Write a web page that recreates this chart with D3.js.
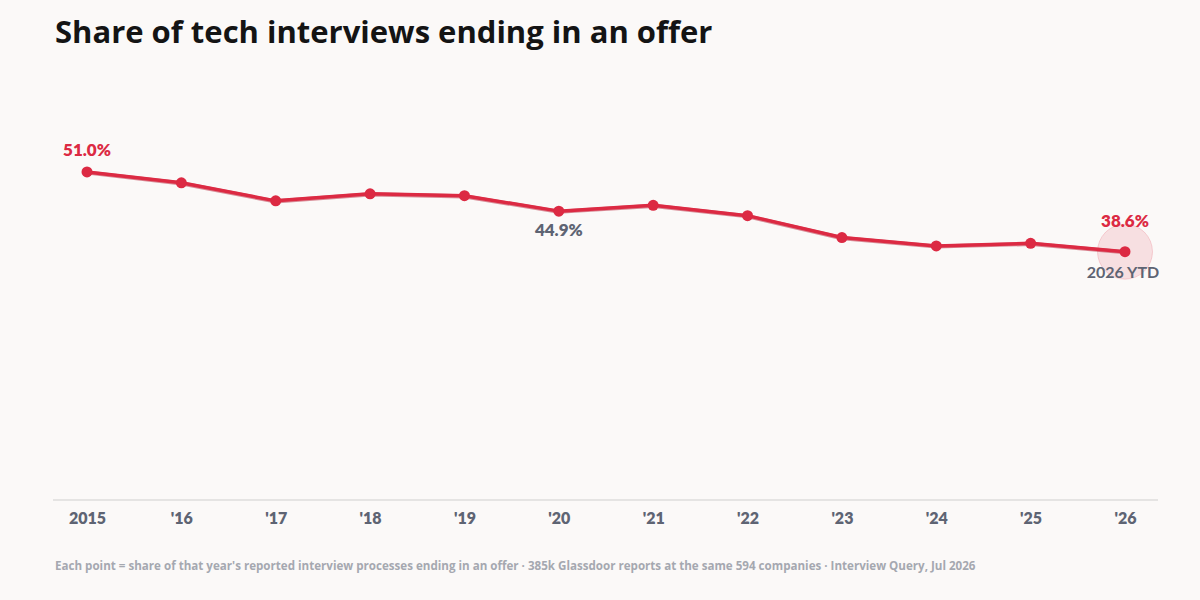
<!DOCTYPE html>
<html><head><meta charset="utf-8">
<script src="https://cdn.jsdelivr.net/npm/d3@7"></script>
<style>
html,body{margin:0;padding:0;background:#fbf9f8;}
svg{display:block;font-family:Lato,"Open Sans",sans-serif;}
</style></head>
<body>
<svg id="c" width="1200" height="600"></svg>
<script>
const years = [2015,2016,2017,2018,2019,2020,2021,2022,2023,2024,2025,2026];
const tickLabels = ["2015","'16","'17","'18","'19","'20","'21","'22","'23","'24","'25","'26"];
const offerShare = [51.0,49.3,46.5,47.6,47.3,44.9,45.8,44.2,40.8,39.5,39.9,38.6];
const title = "Share of tech interviews ending in an offer";
const footnote = "Each point = share of that year's reported interview processes ending in an offer · 385k Glassdoor reports at the same 594 companies · Interview Query, Jul 2026";

const RED = "#dc2a43", GRAY = "#5e6473";
const svg = d3.select("#c");
svg.append("rect").attr("width",1200).attr("height",600).attr("fill","#fbf9f8");

svg.append("text").attr("x",55).attr("y",43).attr("font-size",31).attr("font-weight",700)
  .attr("font-family","'Open Sans',sans-serif")
  .attr("fill","#141414").text(title);

const x = d3.scalePoint().domain(years).range([87,1125]);
const y = d3.scaleLinear().domain([0,60]).range([500,114]);

// baseline
svg.append("line").attr("x1",53).attr("x2",1158).attr("y1",y(0)).attr("y2",y(0))
  .attr("stroke","#dedcdc").attr("stroke-width",1.5);

// axis labels
const ax = svg.append("g").attr("transform",`translate(0,${y(0)})`)
  .call(d3.axisBottom(x).tickSize(0).tickFormat((d,i)=>tickLabels[i]));
ax.select(".domain").remove();
ax.selectAll("text").attr("dy",0).attr("y",24).attr("font-size",16).attr("font-weight",800)
  .attr("fill",GRAY).attr("font-family","Lato,sans-serif");

// halo
const last = years.length-1;
svg.append("circle").attr("cx",x(years[last])).attr("cy",y(offerShare[last])).attr("r",27.5)
  .attr("fill","rgba(220,42,67,0.12)").attr("stroke","rgba(220,42,67,0.18)").attr("stroke-width",1);

// line
const line = d3.line().x((d,i)=>x(years[i])).y(d=>y(d));
svg.append("path").datum(offerShare).attr("d",line).attr("fill","none")
  .attr("stroke","#b81f35").attr("stroke-width",4.2).attr("stroke-linejoin","round").attr("opacity",0.5)
  .attr("transform","translate(0,0.6)");
svg.append("path").datum(offerShare).attr("d",line).attr("fill","none")
  .attr("stroke",RED).attr("stroke-width",3.5).attr("stroke-linejoin","round");

svg.selectAll("circle.pt").data(offerShare).join("circle").attr("class","pt")
  .attr("cx",(d,i)=>x(years[i])).attr("cy",d=>y(d)).attr("r",5.5).attr("fill",RED);

// annotations
const fmt = d=>d.toFixed(1)+"%";
svg.append("text").attr("x",x(years[0])).attr("y",y(offerShare[0])-16).attr("text-anchor","middle")
  .attr("font-size",17).attr("font-weight",800).attr("fill",RED).text(fmt(offerShare[0]));
svg.append("text").attr("x",x(2020)).attr("y",y(offerShare[5])+25).attr("text-anchor","middle")
  .attr("font-size",17).attr("font-weight",800).attr("fill",GRAY).text(fmt(offerShare[5]));
svg.append("text").attr("x",x(years[last])).attr("y",y(offerShare[last])-25).attr("text-anchor","middle")
  .attr("font-size",17).attr("font-weight",800).attr("fill",RED).text(fmt(offerShare[last]));
svg.append("text").attr("x",x(years[last])-2).attr("y",y(offerShare[last])+26).attr("text-anchor","middle")
  .attr("font-size",16).attr("font-weight",700).attr("fill",GRAY).text("2026 YTD");

svg.append("text").attr("x",55).attr("y",570).attr("font-size",11.6).attr("font-weight",700)
  .attr("font-family","'Open Sans',sans-serif")
  .attr("fill","#a5a8b0").text(footnote);
</script>
</body></html>
